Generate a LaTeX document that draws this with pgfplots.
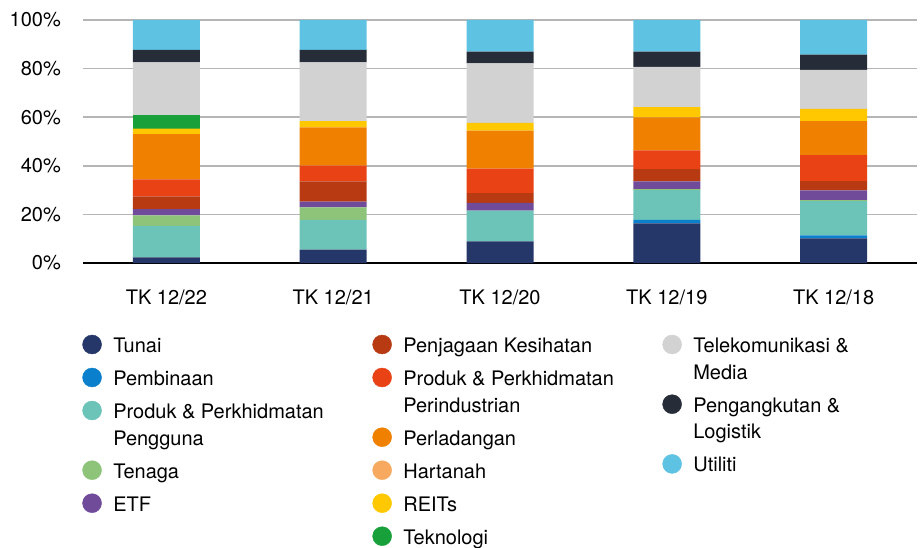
\documentclass[border=0pt]{standalone}
\usepackage{fontspec}
\setmainfont{TeX Gyre Heros}
\usepackage{pgfplots}
\usepackage{pgfplotstable}
\pgfplotsset{compat=1.18}

\definecolor{cTun}{HTML}{253668}
\definecolor{cPem}{HTML}{0A7FCB}
\definecolor{cPPg}{HTML}{6CC3B8}
\definecolor{cTen}{HTML}{8DC47A}
\definecolor{cETF}{HTML}{704B9A}
\definecolor{cPjk}{HTML}{B83A12}
\definecolor{cPPi}{HTML}{E84215}
\definecolor{cPld}{HTML}{F08000}
\definecolor{cHrt}{HTML}{F7AA5F}
\definecolor{cREI}{HTML}{FFC800}
\definecolor{cTek}{HTML}{18A13B}
\definecolor{cTel}{HTML}{D2D2D2}
\definecolor{cPng}{HTML}{262C38}
\definecolor{cUtl}{HTML}{5EC2E2}
\definecolor{gridgray}{HTML}{B5B5B5}

% stacked shares (%), bottom to top
\pgfplotstableread{
x Tun Pem PPg Ten ETF Pjk PPi Pld Hrt REI Tek Tel Png Utl
0 2.3 0 13.0 4.3 2.6 5.2 7.0 18.6 0 2.3 5.7 21.6 5.1 12.3
1 5.5 0 12.2 5.2 2.4 8.3 6.5 15.7 0 2.6 0 24.2 5.1 12.3
2 8.9 0 12.7 0 3.1 4.1 10.0 15.7 0 3.2 0 24.4 4.9 13.0
3 16.3 1.4 12.3 0.4 3.2 5.0 7.7 13.6 0 4.2 0 16.6 6.3 13.0
4 10.1 1.3 14.1 0.4 4.0 3.8 10.7 14.0 0 5.0 0 16.1 6.3 14.2
}\data

% legend rows: one line = 33pt, second line 26.7pt below the first
\newcommand{\ls}{\rule[-10pt]{0pt}{33pt}}
\newcommand{\lsb}{\rule[-10pt]{0pt}{10pt}}
\newcommand{\two}[2]{\vtop{\baselineskip=26.7pt\hbox{\ls #1}\hbox{\lsb #2}}}

\pgfplotsset{
  legdot/.style={legend image code/.code={\fill[#1] (0pt,8pt) circle (9.5pt);}},
  legcol/.style={
    at={(83pt,-263pt)}, anchor=south west,
    width=834pt, height=243pt, scale only axis,
    hide axis, xmin=0, xmax=1, ymin=0, ymax=1,
    legend cell align=left,
    legend style={at={(#1,-0.2728)}, anchor=north west,
      draw=none, fill=none, inner sep=0pt, row sep=0pt, column sep=11.5pt,
      font=\fontsize{20}{26.7}\selectfont,
      cells={anchor=base west},
      nodes={inner sep=0pt, text depth=, text height=}},
  },
}

\begin{document}
\begin{tikzpicture}
\useasboundingbox (0pt,0pt) rectangle (920pt,-548pt);

\begin{axis}[
  at={(83pt,-263pt)}, anchor=south west,
  width=834pt, height=243pt, scale only axis,
  ybar stacked, bar width=67pt,
  xmin=-0.5, xmax=4.5, ymin=0, ymax=100,
  xtick={0,1,2,3,4},
  xticklabels={TK 12/22,TK 12/21,TK 12/20,TK 12/19,TK 12/18},
  ytick={0,20,40,60,80,100},
  yticklabels={0\%,20\%,40\%,60\%,80\%,100\%},
  major tick length=0pt,
  axis x line*=bottom, axis y line*=left,
  x axis line style={black, line width=2.5pt, -},
  y axis line style={draw=none},
  ymajorgrids, grid style={gridgray, line width=1.5pt},
  tick label style={font=\fontsize{20}{24}\selectfont, inner sep=0pt},
  xticklabel style={anchor=base, yshift=-41pt},
  yticklabel style={anchor=east, xshift=-22pt},
  every axis plot/.append style={draw=none},
]
\addplot[fill=cTun] table[x=x, y=Tun] {\data};
\addplot[fill=cPem] table[x=x, y=Pem] {\data};
\addplot[fill=cPPg] table[x=x, y=PPg] {\data};
\addplot[fill=cTen] table[x=x, y=Ten] {\data};
\addplot[fill=cETF] table[x=x, y=ETF] {\data};
\addplot[fill=cPjk] table[x=x, y=Pjk] {\data};
\addplot[fill=cPPi] table[x=x, y=PPi] {\data};
\addplot[fill=cPld] table[x=x, y=Pld] {\data};
\addplot[fill=cHrt] table[x=x, y=Hrt] {\data};
\addplot[fill=cREI] table[x=x, y=REI] {\data};
\addplot[fill=cTek] table[x=x, y=Tek] {\data};
\addplot[fill=cTel] table[x=x, y=Tel] {\data};
\addplot[fill=cPng] table[x=x, y=Png] {\data};
\addplot[fill=cUtl] table[x=x, y=Utl] {\data};
\end{axis}

% legend, column 1
\begin{axis}[legcol=-0.001]
\addlegendimage{legdot=cTun} \addlegendentry{\ls Tunai}
\addlegendimage{legdot=cPem} \addlegendentry{\ls Pembinaan}
\addlegendimage{legdot=cPPg} \addlegendentry{\two{Produk \& Perkhidmatan}{Pengguna}}
\addlegendimage{legdot=cTen} \addlegendentry{\ls Tenaga}
\addlegendimage{legdot=cETF} \addlegendentry{\ls ETF}
\end{axis}

% legend, column 2
\begin{axis}[legcol=0.3468]
\addlegendimage{legdot=cPjk} \addlegendentry{\ls Penjagaan Kesihatan}
\addlegendimage{legdot=cPPi} \addlegendentry{\two{Produk \& Perkhidmatan}{Perindustrian}}
\addlegendimage{legdot=cPld} \addlegendentry{\ls Perladangan}
\addlegendimage{legdot=cHrt} \addlegendentry{\ls Hartanah}
\addlegendimage{legdot=cREI} \addlegendentry{\ls REITs}
\addlegendimage{legdot=cTek} \addlegendentry{\ls Teknologi}
\end{axis}

% legend, column 3
\begin{axis}[legcol=0.6945]
\addlegendimage{legdot=cTel} \addlegendentry{\two{Telekomunikasi \&}{Media}}
\addlegendimage{legdot=cPng} \addlegendentry{\two{Pengangkutan \&}{Logistik}}
\addlegendimage{legdot=cUtl} \addlegendentry{\ls Utiliti}
\end{axis}
\end{tikzpicture}
\end{document}
